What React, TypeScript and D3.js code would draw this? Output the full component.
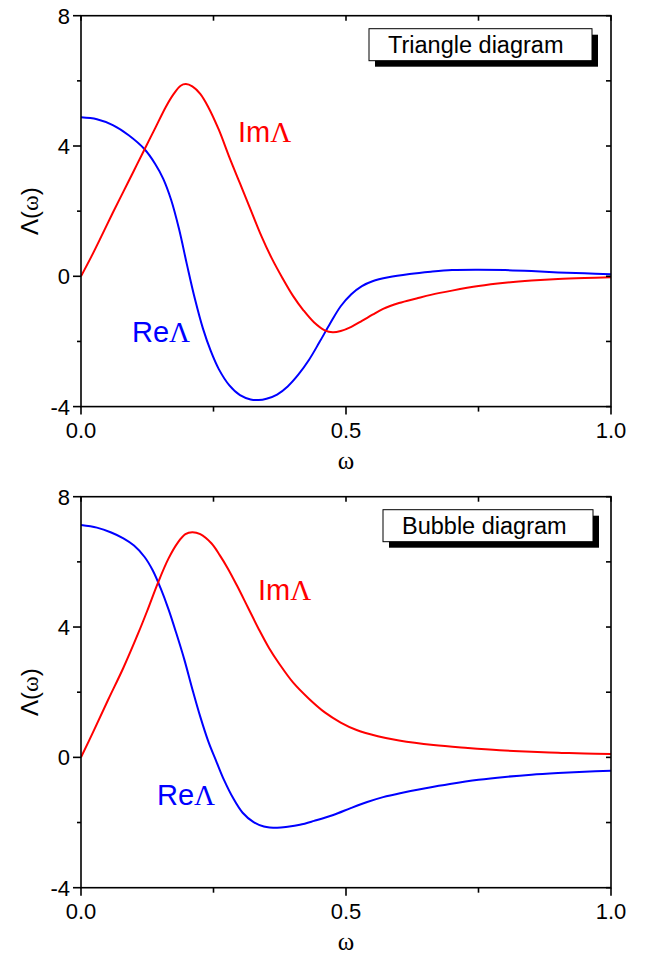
import React from "react";
import * as d3 from "d3";

// ---------- data ----------
const triOmegaRe = [0, 0.03, 0.06, 0.09, 0.12, 0.14, 0.155, 0.17, 0.185, 0.2, 0.215, 0.23, 0.245, 0.26, 0.28, 0.3, 0.32, 0.335, 0.35, 0.37, 0.39, 0.41, 0.43, 0.45, 0.47, 0.49, 0.51, 0.53, 0.55, 0.58, 0.62, 0.66, 0.7, 0.75, 0.8, 0.85, 0.9, 0.95, 1.0];
const triRe = [4.88, 4.82, 4.64, 4.33, 3.9, 3.45, 3.0, 2.35, 1.45, 0.35, -0.7, -1.6, -2.3, -2.85, -3.35, -3.65, -3.78, -3.8, -3.76, -3.63, -3.38, -3.02, -2.57, -2.02, -1.45, -0.92, -0.55, -0.3, -0.15, -0.03, 0.07, 0.14, 0.19, 0.2, 0.19, 0.16, 0.12, 0.09, 0.06];

const triOmegaIm = [0, 0.02, 0.04, 0.06, 0.08, 0.1, 0.12, 0.14, 0.16, 0.175, 0.188, 0.198, 0.21, 0.225, 0.24, 0.26, 0.28, 0.3, 0.32, 0.34, 0.36, 0.38, 0.4, 0.42, 0.44, 0.46, 0.475, 0.49, 0.51, 0.53, 0.55, 0.57, 0.6, 0.633, 0.66, 0.7, 0.75, 0.8, 0.85, 0.9, 0.95, 1.0];
const triIm = [0, 0.62, 1.28, 1.95, 2.6, 3.25, 3.9, 4.55, 5.2, 5.6, 5.85, 5.9, 5.83, 5.6, 5.2, 4.5, 3.65, 2.85, 2.05, 1.25, 0.55, -0.05, -0.6, -1.05, -1.42, -1.66, -1.72, -1.68, -1.55, -1.37, -1.18, -1.0, -0.82, -0.68, -0.57, -0.44, -0.3, -0.2, -0.13, -0.08, -0.05, -0.03];

const bubOmegaRe = [0, 0.03, 0.057, 0.08, 0.1, 0.12, 0.135, 0.15, 0.165, 0.18, 0.195, 0.21, 0.225, 0.24, 0.256, 0.27, 0.287, 0.305, 0.325, 0.345, 0.37, 0.39, 0.413, 0.44, 0.476, 0.51, 0.54, 0.57, 0.602, 0.65, 0.696, 0.75, 0.8, 0.85, 0.9, 0.95, 1.0];
const bubRe = [7.13, 7.05, 6.9, 6.72, 6.5, 6.15, 5.75, 5.2, 4.55, 3.8, 3.0, 2.1, 1.25, 0.5, -0.15, -0.7, -1.25, -1.7, -1.98, -2.12, -2.16, -2.13, -2.07, -1.95, -1.77, -1.55, -1.37, -1.22, -1.1, -0.95, -0.82, -0.69, -0.6, -0.53, -0.48, -0.44, -0.41];

const bubOmegaIm = [0, 0.025, 0.051, 0.08, 0.108, 0.125, 0.145, 0.165, 0.183, 0.197, 0.21, 0.225, 0.246, 0.262, 0.277, 0.295, 0.315, 0.335, 0.355, 0.375, 0.4, 0.43, 0.46, 0.49, 0.52, 0.56, 0.6, 0.665, 0.73, 0.79, 0.85, 0.9, 0.95, 1.0];
const bubIm = [0, 0.85, 1.76, 2.75, 3.81, 4.5, 5.35, 6.1, 6.6, 6.85, 6.91, 6.85, 6.57, 6.2, 5.8, 5.25, 4.6, 3.95, 3.35, 2.85, 2.3, 1.8, 1.38, 1.07, 0.84, 0.65, 0.52, 0.38, 0.29, 0.22, 0.17, 0.14, 0.12, 0.1];

const yMajorTicks = [-4, 0, 4, 8];
const yMinorTicks = [-2, 2, 6];
const xMajorTicks = [0, 0.5, 1.0];
const xMinorTicks = [0.25, 0.75];
const xTickLabels = ["0.0", "0.5", "1.0"];
const yTickLabels = ["-4", "0", "4", "8"];

const panelTitles = ["Triangle diagram", "Bubble diagram"];

// ---------- layout ----------
const W = 646;
const H = 956;
const left = 81;
const right = 611;
const panels = [
  { top: 15.7, bottom: 406.6, legendX: 369, legendW: 223, reLabel: [132, 342], imLabel: [238, 142] },
  { top: 496.7, bottom: 887.7, legendX: 383, legendW: 210, reLabel: [157, 805], imLabel: [258, 600] },
];

const sans = "'Liberation Sans', Arial, sans-serif";
const serif = "'Liberation Serif', 'Times New Roman', serif";

function Panel({ idx, re, reW, im, imW }: any) {
  const p = panels[idx];
  const x = d3.scaleLinear().domain([0, 1]).range([left, right]);
  const y = d3.scaleLinear().domain([-4, 8]).range([p.bottom, p.top]);
  const line = d3
    .line<[number, number]>()
    .x((d) => x(d[0]))
    .y((d) => y(d[1]))
    .curve(d3.curveCatmullRom.alpha(0.5));
  const reData = reW.map((w: number, i: number) => [w, re[i]] as [number, number]);
  const imData = imW.map((w: number, i: number) => [w, im[i]] as [number, number]);
  const axisW = 1.6;
  return (
    <g>
      <defs>
        <clipPath id={`clip${idx}`}>
          <rect x={left} y={p.top} width={right - left} height={p.bottom - p.top} />
        </clipPath>
      </defs>
      <g clipPath={`url(#clip${idx})`}>
        <path d={line(reData) || ""} fill="none" stroke="#0000ff" strokeWidth={2} />
        <path d={line(imData) || ""} fill="none" stroke="#ff0000" strokeWidth={2} />
      </g>
      {/* frame */}
      <rect x={left} y={p.top} width={right - left} height={p.bottom - p.top} fill="none" stroke="#000" strokeWidth={axisW} />
      {/* left ticks */}
      {yMajorTicks.map((t) => (
        <line key={"ym" + t} x1={left - 8} x2={left} y1={y(t)} y2={y(t)} stroke="#000" strokeWidth={axisW} />
      ))}
      {yMinorTicks.map((t) => (
        <line key={"yn" + t} x1={left - 4} x2={left} y1={y(t)} y2={y(t)} stroke="#000" strokeWidth={axisW} />
      ))}
      {/* right ticks inward */}
      {[...yMajorTicks, ...yMinorTicks].map((t) => (
        <line key={"yr" + t} x1={right - 5} x2={right} y1={y(t)} y2={y(t)} stroke="#000" strokeWidth={axisW} />
      ))}
      {/* bottom ticks */}
      {xMajorTicks.map((t) => (
        <line key={"xm" + t} x1={x(t)} x2={x(t)} y1={p.bottom} y2={p.bottom + 8} stroke="#000" strokeWidth={axisW} />
      ))}
      {xMinorTicks.map((t) => (
        <line key={"xn" + t} x1={x(t)} x2={x(t)} y1={p.bottom} y2={p.bottom + 5} stroke="#000" strokeWidth={axisW} />
      ))}
      {/* top ticks inward */}
      {[...xMajorTicks, ...xMinorTicks].map((t) => (
        <line key={"xt" + t} x1={x(t)} x2={x(t)} y1={p.top} y2={p.top + 5} stroke="#000" strokeWidth={axisW} />
      ))}
      {/* tick labels */}
      {yMajorTicks.map((t, i) => (
        <text key={"yl" + t} x={left - 11} y={y(t) + 8} textAnchor="end" fontFamily={sans} fontSize={22}>
          {yTickLabels[i]}
        </text>
      ))}
      {xMajorTicks.map((t, i) => (
        <text key={"xl" + t} x={x(t)} y={p.bottom + 31} textAnchor="middle" fontFamily={sans} fontSize={22}>
          {xTickLabels[i]}
        </text>
      ))}
      {/* axis titles */}
      <text x={(left + right) / 2} y={p.bottom + 62} textAnchor="middle" fontFamily={serif} fontSize={25}>
        ω
      </text>
      <text
        transform={`translate(38,${(p.top + p.bottom) / 2}) rotate(-90)`}
        textAnchor="middle"
        fontFamily={sans}
        fontSize={24}
      >
        Λ(<tspan fontFamily={serif}>ω</tspan>)
      </text>
      {/* legend box */}
      <rect x={p.legendX + 6} y={p.top + 13 + 6} width={p.legendW} height={32} fill="#000" />
      <rect x={p.legendX} y={p.top + 13} width={p.legendW} height={32} fill="#fff" stroke="#000" strokeWidth={1} />
      <text x={p.legendX + 19} y={p.top + 13 + 24} fontFamily={sans} fontSize={23.5}>
        {panelTitles[idx]}
      </text>
      {/* curve labels */}
      <text x={p.imLabel[0]} y={p.imLabel[1]} fontFamily={sans} fontSize={29} fill="#ff0000">
        Im<tspan fontFamily={serif}>Λ</tspan>
      </text>
      <text x={p.reLabel[0]} y={p.reLabel[1]} fontFamily={sans} fontSize={29} fill="#0000ff">
        Re<tspan fontFamily={serif}>Λ</tspan>
      </text>
    </g>
  );
}

export default function App() {
  return (
    <svg width={W} height={H} style={{ position: "absolute", left: 0, top: 0, background: "#fff" }}>
      <rect width={W} height={H} fill="#fff" />
      <Panel idx={0} re={triRe} reW={triOmegaRe} im={triIm} imW={triOmegaIm} />
      <Panel idx={1} re={bubRe} reW={bubOmegaRe} im={bubIm} imW={bubOmegaIm} />
    </svg>
  );
}
